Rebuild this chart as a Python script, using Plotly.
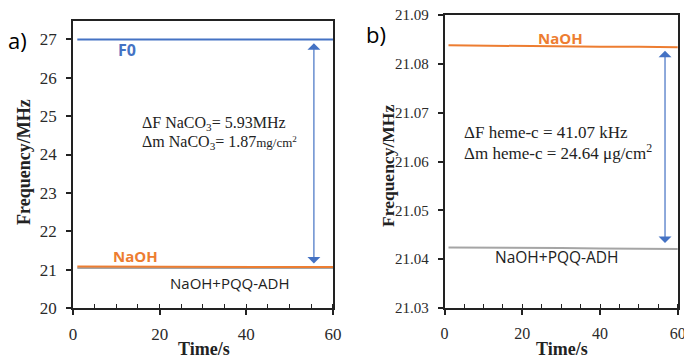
import plotly.graph_objects as go

# ---- data ----
time_a = [1, 10, 20, 30, 40, 50, 60]
f0_a = [27.0, 27.0, 27.0, 27.0, 27.0, 27.0, 27.0]
naoh_a = [21.08, 21.075, 21.075, 21.07, 21.07, 21.07, 21.07]
pqq_a = [21.04, 21.04, 21.04, 21.04, 21.04, 21.04, 21.04]

time_b = [1, 10, 20, 30, 40, 50, 60]
naoh_b = [21.0838, 21.0837, 21.0836, 21.0836, 21.0835, 21.0835, 21.0834]
pqq_b = [21.0424, 21.0424, 21.0423, 21.0423, 21.0422, 21.0422, 21.0421]

xticks = [0, 20, 40, 60]
yticks_a = [20, 21, 22, 23, 24, 25, 26, 27]
yticks_b = [21.03, 21.04, 21.05, 21.06, 21.07, 21.08, 21.09]

BLUE = "#4472C4"
ORANGE = "#ED7D31"
GRAY = "#A5A5A5"
SERIF = "Liberation Serif, Times New Roman, serif"
SANS = "Open Sans, sans-serif"

fig = go.Figure()
fig.add_trace(go.Scatter(x=time_a, y=f0_a, mode="lines", line=dict(color=BLUE, width=2), xaxis="x", yaxis="y"))
fig.add_trace(go.Scatter(x=time_a, y=pqq_a, mode="lines", line=dict(color=GRAY, width=2), xaxis="x", yaxis="y"))
fig.add_trace(go.Scatter(x=time_a, y=naoh_a, mode="lines", line=dict(color=ORANGE, width=2), xaxis="x", yaxis="y"))
fig.add_trace(go.Scatter(x=time_b, y=naoh_b, mode="lines", line=dict(color=ORANGE, width=2), xaxis="x2", yaxis="y2"))
fig.add_trace(go.Scatter(x=time_b, y=pqq_b, mode="lines", line=dict(color=GRAY, width=2), xaxis="x2", yaxis="y2"))


def xax(domain, anchor, size):
    return dict(domain=domain, anchor=anchor, range=[0, 60], tickvals=xticks,
                ticks="outside", ticklen=5, tickwidth=1.5, tickcolor="#222", ticklabelstandoff=5,
                ticklabeloverflow="allow",
                minor=dict(dtick=5, ticks="inside", ticklen=4, tickwidth=1.2, tickcolor="#222"),
                showline=True, linecolor="#222", linewidth=1.5, mirror=True, automargin=False,
                showgrid=False, zeroline=False,
                tickfont=dict(family=SERIF, size=size, color="#2a2a2a"), fixedrange=True)

def yax(domain, anchor, rng, tv, fmt, size):
    return dict(domain=domain, anchor=anchor, range=rng, tickvals=tv, tickformat=fmt,
                ticks="outside", ticklen=5, tickwidth=1.5, tickcolor="#222", automargin=False,
                ticklabelstandoff=6, ticklabeloverflow="allow",
                showline=True, linecolor="#222", linewidth=1.5, mirror=True,
                showgrid=False, zeroline=False,
                tickfont=dict(family=SERIF, size=size, color="#2a2a2a"), fixedrange=True)

fig.update_layout(
    template="none",
    font=dict(family=SERIF, size=15, color="#222"),
    width=684, height=360,
    margin=dict(l=0, r=0, t=0, b=0, pad=0),
    paper_bgcolor="white", plot_bgcolor="white",
    showlegend=False,
    xaxis=xax([0.1067, 0.4868], "y", 17),
    yaxis=yax([0.1444, 0.9417], "x", [20, 27.48], yticks_a, "d", 17),
    xaxis2=xax([0.650, 0.991], "y2", 16),
    yaxis2=yax([0.1444, 0.9583], "x2", [21.03, 21.09], yticks_b, ".2f", 15),
)

ann = []
# arrows
ann.append(dict(x=55.6, y=26.9, ax=55.6, ay=21.12, xref="x", yref="y", axref="x", ayref="y",
                showarrow=True, arrowside="end+start", arrowhead=1, arrowsize=1.8, arrowwidth=1.2,
                arrowcolor=BLUE, text=""))
ann.append(dict(x=56.7, y=21.0827, ax=56.7, ay=21.0430, xref="x2", yref="y2", axref="x2", ayref="y2",
                showarrow=True, arrowside="end+start", arrowhead=1, arrowsize=1.8, arrowwidth=1.2,
                arrowcolor=BLUE, text=""))

def txt(x, y, s, font, xanchor="left", xref="paper", yref="paper", angle=0):
    ann.append(dict(x=x, y=y, text=s, xref=xref, yref=yref, showarrow=False, font=font,
                    xanchor=xanchor, yanchor="middle", textangle=angle))

px = lambda v: v / 684
py = lambda v: 1 - v / 360

# panel labels
txt(px(6), py(40), "a)", dict(family=SANS, size=22, color="black"))
txt(px(364), py(34), "b)", dict(family=SANS, size=22, color="black"))

# series labels
txt(px(127), py(50), "<b>F0</b>", dict(family=SANS, size=16, color=BLUE), "center")
txt(px(135), py(256), "<b>NaOH</b>", dict(family=SANS, size=15, color=ORANGE), "center")
txt(px(230), py(283), "NaOH+PQQ-ADH", dict(family=SANS, size=15, color="#222"), "center")
txt(px(560), py(38), "<b>NaOH</b>", dict(family=SANS, size=15, color=ORANGE), "center")
txt(px(557), py(257), "NaOH+PQQ-ADH", dict(family=SANS, size=15.5, color="#222"), "center")

# delta annotations
fa = dict(family=SERIF, size=16, color="#222")
fb = dict(family=SERIF, size=17, color="#222")
txt(px(140), py(123), "ΔF NaCO<sub>3</sub>= 5.93MHz", fa)
txt(px(140), py(143), "Δm NaCO<sub>3</sub>= 1.87<span style='font-size:13px'>mg/cm<sup>2</sup></span>", fa)
txt(px(462), py(132), "ΔF heme-c = 41.07 kHz", fb)
txt(px(462), py(152), "Δm heme-c = 24.64 μg/cm<sup>2</sup>", fb)

# axis titles
txt(px(24), py(162), "<b>Frequency/MHz</b>", dict(family=SERIF, size=18, color="#222"), "center", angle=-90)
txt(px(388), py(166), "<b>Frequency/MHz</b>", dict(family=SERIF, size=17.5, color="#222"), "center", angle=-90)
txt(px(204), py(349), "<b>Time/s</b>", dict(family=SERIF, size=18, color="#222"), "center")
txt(px(562), py(349), "<b>Time/s</b>", dict(family=SERIF, size=18, color="#222"), "center")

fig.update_layout(annotations=ann)
fig.write_html("out.html", config={"displayModeBar": False},
               post_script="document.body.style.margin='0';document.body.style.padding='0';")
